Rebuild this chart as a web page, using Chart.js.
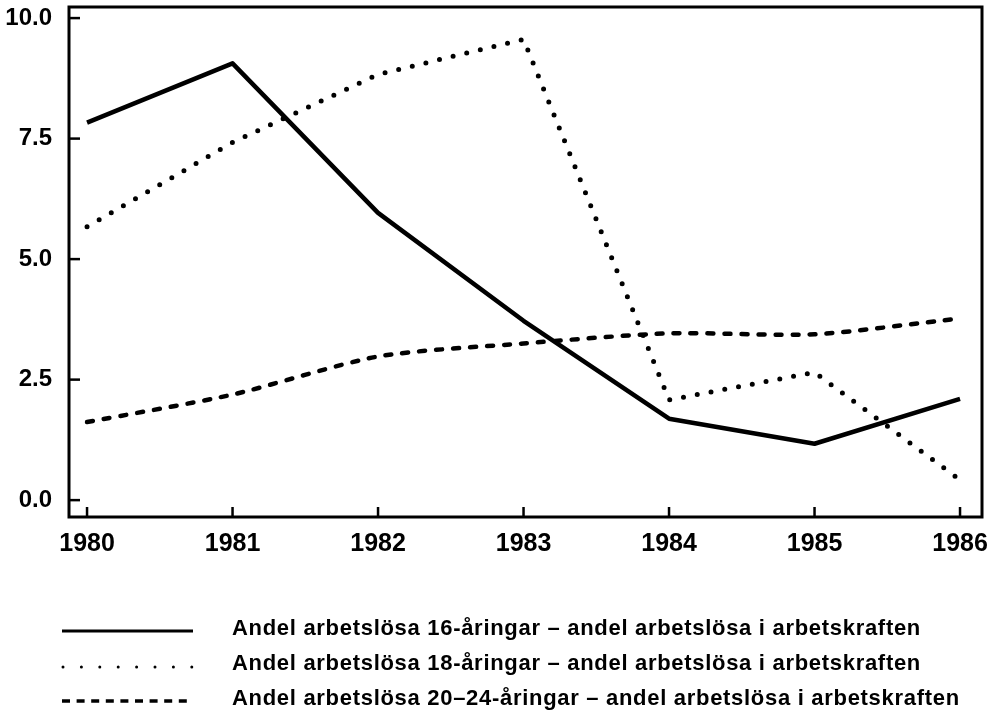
<!DOCTYPE html>
<html>
<head>
<meta charset="utf-8">
<script src="https://cdn.jsdelivr.net/npm/chart.js@4"></script>
<style>
  html, body { margin: 0; padding: 0; background: #fff; }
  #wrap { position: relative; width: 997px; height: 713px; }
  #c { position: absolute; left: 0; top: 0; }
  .leg { position: absolute; left: 0; height: 30px; width: 997px; font-family: "Liberation Sans", Arial, sans-serif; font-size: 22px; font-weight: bold; letter-spacing: 0.7px; color: #000; }
  .leg svg { position: absolute; left: 60px; top: 0; }
  .leg span { position: absolute; left: 232px; top: 2px; white-space: nowrap; }
</style>
</head>
<body>
<div id="wrap">
  <canvas id="c" width="997" height="713"></canvas>
  <div class="leg" style="top:613px">
    <svg width="140" height="30"><line x1="2" y1="18" x2="133" y2="18" stroke="#000" stroke-width="3"/></svg>
    <span id="l0"></span>
  </div>
  <div class="leg" style="top:648px">
    <svg width="140" height="30"><line x1="3" y1="19" x2="133" y2="19" stroke="#000" stroke-width="3" stroke-dasharray="0 18.4" stroke-linecap="round"/></svg>
    <span id="l1"></span>
  </div>
  <div class="leg" style="top:683px">
    <svg width="140" height="30"><line x1="2" y1="18" x2="133" y2="18" stroke="#000" stroke-width="3.5" stroke-dasharray="8 6.6"/></svg>
    <span id="l2"></span>
  </div>
</div>
<script>
// ---- data ----
const years = [1980, 1981, 1982, 1983, 1984, 1985, 1986];
const yTickValues = [0, 2.5, 5, 7.5, 10];
const seriesNames = [
  "Andel arbetslösa 16-åringar – andel arbetslösa i arbetskraften",
  "Andel arbetslösa 18-åringar – andel arbetslösa i arbetskraften",
  "Andel arbetslösa 20–24-åringar – andel arbetslösa i arbetskraften"
];
const age16 = [7.83, 9.06, 5.96, 3.72, 1.69, 1.17, 2.10];
const age18 = [5.67, 7.42, 8.83, 9.56, 2.08, 2.65, 0.42];
const age2024 = [1.62, 2.19, 2.98, 3.25, 3.46, 3.44, 3.77];

document.getElementById('l0').textContent = seriesNames[0];
document.getElementById('l1').textContent = seriesNames[1];
document.getElementById('l2').textContent = seriesNames[2];

function pts(vals) { return years.map((y, i) => ({ x: y, y: vals[i] })); }

const frame = {
  id: 'frame',
  afterDraw(chart) {
    const { ctx, chartArea: a, scales } = chart;
    ctx.save();
    ctx.strokeStyle = '#000';
    ctx.lineWidth = 3;
    ctx.strokeRect(a.left, a.top, a.right - a.left, a.bottom - a.top);
    ctx.lineWidth = 2.5;
    scales.y.ticks.forEach(t => {
      const py = scales.y.getPixelForValue(t.value);
      ctx.beginPath(); ctx.moveTo(a.left, py); ctx.lineTo(a.left + 11, py); ctx.stroke();
    });
    scales.x.ticks.forEach(t => {
      const px = scales.x.getPixelForValue(t.value);
      ctx.beginPath(); ctx.moveTo(px, a.bottom); ctx.lineTo(px, a.bottom - 10); ctx.stroke();
    });
    ctx.restore();
  }
};

new Chart(document.getElementById('c'), {
  type: 'line',
  data: {
    datasets: [
      { label: seriesNames[0], data: pts(age16), borderColor: '#000', borderWidth: 4.5,
        pointRadius: 0, tension: 0, borderJoinStyle: 'round' },
      { label: seriesNames[1], data: pts(age18), borderColor: '#000', borderWidth: 5,
        borderDash: [0, 14], borderCapStyle: 'round', pointRadius: 0, tension: 0 },
      { label: seriesNames[2], data: pts(age2024), borderColor: '#000', borderWidth: 4.5,
        borderDash: [6, 11], borderCapStyle: 'round', pointRadius: 0, tension: 0.25 }
    ]
  },
  options: {
    responsive: false,
    animation: false,
    layout: { padding: { left: 0, top: 7, right: 15, bottom: 0 } },
    plugins: { legend: { display: false }, tooltip: { enabled: false } },
    scales: {
      x: {
        type: 'linear',
        min: 1979.876, max: 1986.151,
        afterBuildTicks: s => { s.ticks = years.map(v => ({ value: v })); },
        afterFit: s => { s.height = 713 - 517; s.paddingLeft = 0; s.paddingRight = 0; },
        grid: { display: false, drawTicks: false },
        border: { display: false },
        ticks: {
          padding: 12, color: '#000',
          font: { family: 'Liberation Sans', size: 25, weight: 'bold' },
          callback: v => String(v)
        }
      },
      y: {
        min: -0.35, max: 10.23,
        afterBuildTicks: s => { s.ticks = yTickValues.map(v => ({ value: v })); },
        afterFit: s => { s.width = 69; s.paddingTop = 0; s.paddingBottom = 0; },
        grid: { display: false, drawTicks: false },
        border: { display: false },
        ticks: {
          padding: 17, color: '#000',
          font: { family: 'Liberation Sans', size: 24, weight: 'bold' },
          callback: v => Number(v).toFixed(1)
        }
      }
    }
  },
  plugins: [frame]
});
</script>
</body>
</html>
